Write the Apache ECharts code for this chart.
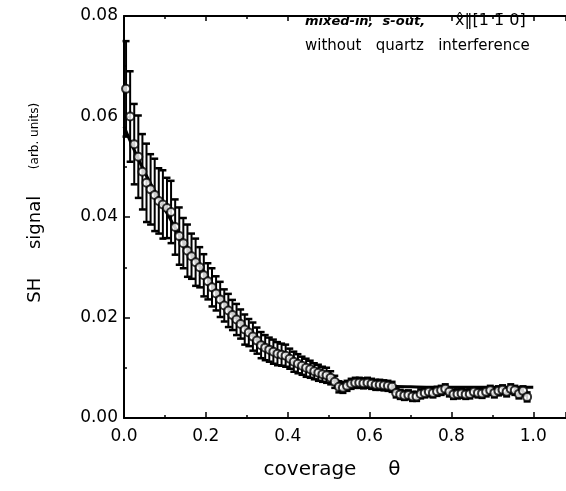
<!DOCTYPE html>
<html>
<head>
<meta charset="utf-8">
<script src="https://cdn.jsdelivr.net/npm/echarts@6/dist/echarts.min.js"></script>
<style>html,body{margin:0;padding:0;background:#fff}#c{width:566px;height:491px}</style>
</head>
<body>
<div id="c"></div>
<script>
// coverage theta of each measured point
const theta = [0.005,0.015,0.025,0.035,0.045,0.055,0.065,0.075,0.085,0.095,
  0.105,0.115,0.125,0.135,0.145,0.155,0.165,0.175,0.185,0.195,
  0.205,0.215,0.225,0.235,0.245,0.255,0.265,0.275,0.285,0.295,
  0.305,0.315,0.325,0.335,0.345,0.355,0.365,0.375,0.385,0.395,
  0.405,0.415,0.425,0.435,0.445,0.455,0.465,0.475,0.485,0.495,
  0.505,0.515,0.525,0.535,0.545,0.555,0.565,0.575,0.585,0.595,
  0.605,0.615,0.625,0.635,0.645,0.655,0.665,0.675,0.685,0.695,
  0.705,0.715,0.725,0.735,0.745,0.755,0.765,0.775,0.785,0.795,
  0.805,0.815,0.825,0.835,0.845,0.855,0.865,0.875,0.885,0.895,
  0.905,0.915,0.925,0.935,0.945,0.955,0.965,0.975,0.985];
// SH signal (arb. units)
const signal = [0.0655,0.0600,0.0545,0.0520,0.0490,0.0468,0.0455,0.0444,0.0432,0.0425,
  0.0418,0.0410,0.0380,0.0362,0.0348,0.0333,0.0322,0.0310,0.0300,0.0284,
  0.0272,0.0260,0.0248,0.0236,0.0224,0.0214,0.0205,0.0196,0.0187,0.0176,
  0.0170,0.0162,0.0154,0.0145,0.0140,0.0136,0.0132,0.0128,0.0126,0.0124,
  0.0118,0.0112,0.0108,0.0104,0.0100,0.0097,0.0093,0.0090,0.0087,0.0085,
  0.0080,0.0072,0.0062,0.0060,0.0064,0.0068,0.0070,0.0070,0.0069,0.0070,
  0.0068,0.0066,0.0066,0.0065,0.0064,0.0062,0.0050,0.0047,0.0045,0.0046,
  0.0043,0.0043,0.0048,0.0050,0.0052,0.0050,0.0053,0.0055,0.0058,0.0052,
  0.0047,0.0048,0.0049,0.0047,0.0048,0.0052,0.0050,0.0049,0.0052,0.0055,
  0.0050,0.0054,0.0056,0.0052,0.0058,0.0055,0.0048,0.0054,0.0042];
// half-length of each error bar
const errHalf = [0.0095,0.0090,0.0080,0.0082,0.0075,0.0078,0.0070,0.0072,0.0065,0.0068,
  0.0060,0.0062,0.0055,0.0057,0.0050,0.0052,0.0045,0.0047,0.0040,0.0042,
  0.0036,0.0038,0.0034,0.0035,0.0032,0.0033,0.0030,0.0031,0.0029,0.0030,
  0.0027,0.0028,0.0026,0.0026,0.0025,0.0024,0.0024,0.0023,0.0022,0.0022,
  0.0020,0.0020,0.0019,0.0018,0.0018,0.0017,0.0016,0.0016,0.0015,0.0015,
  0.0013,0.0012,0.0011,0.0010,0.0010,0.0010,0.0010,0.0010,0.0010,0.0010,
  0.0010,0.0010,0.0010,0.0010,0.0010,0.0010,0.0009,0.0009,0.0009,0.0009,
  0.0009,0.0009,0.0009,0.0009,0.0009,0.0009,0.0009,0.0009,0.0009,0.0009,
  0.0009,0.0009,0.0009,0.0009,0.0009,0.0009,0.0009,0.0009,0.0009,0.0009,
  0.0009,0.0009,0.0009,0.0009,0.0009,0.0009,0.0009,0.0009,0.0009];
// fitted curve
const fitTheta = [0.00,0.05,0.10,0.15,0.20,0.25,0.30,0.35,0.40,0.45,0.50,0.53,0.56,0.60,0.70,0.80,0.90,1.00];
const fitValue = [0.0580,0.0490,0.0415,0.0345,0.0285,0.0225,0.0178,0.0142,0.0116,0.0096,0.0081,0.0072,0.0066,0.0064,0.0062,0.0061,0.0061,0.0061];
// axis ticks
const xTicks = [0.0,0.2,0.4,0.6,0.8,1.0];
const yTicks = [0.00,0.02,0.04,0.06,0.08];

const points = theta.map((t, i) => [t, signal[i]]);
const bars = theta.map((t, i) => [t, signal[i] - errHalf[i], signal[i] + errHalf[i]]);
const fit = fitTheta.map((t, i) => [t, fitValue[i]]);

const font = '"DejaVu Sans", Verdana, sans-serif';
const chart = echarts.init(document.getElementById('c'));
chart.setOption({
  animation: false,
  backgroundColor: '#fff',
  grid: { left: 124, top: 16, right: 0, bottom: 73 },
  xAxis: [{
    type: 'value', min: 0, max: 1.08, interval: 0.2,
    name: 'coverage     θ', nameLocation: 'middle', nameGap: 42,
    nameTextStyle: { fontFamily: font, fontSize: 20, color: '#000', padding: [0, 26, 0, 0] },
    axisLine: { show: true, onZero: false, lineStyle: { color: '#000', width: 2 } },
    axisTick: { show: true, inside: true, length: 6, lineStyle: { color: '#000', width: 1.5 } },
    minorTick: { show: true, splitNumber: 2, length: 3, lineStyle: { color: '#000', width: 1.5 } },
    splitLine: { show: false },
    axisLabel: { fontFamily: font, fontSize: 17, color: '#000', margin: 10, showMaxLabel: false,
      formatter: v => xTicks.some(t => Math.abs(t - v) < 1e-9) ? v.toFixed(1) : '' }
  }, {
    type: 'value', position: 'top', min: 0, max: 1.08, interval: 0.2,
    axisLine: { show: true, onZero: false, lineStyle: { color: '#000', width: 2 } },
    axisTick: { show: true, inside: true, length: 5, lineStyle: { color: '#000', width: 1.5 } },
    minorTick: { show: true, splitNumber: 2, length: 3, lineStyle: { color: '#000', width: 1.5 } },
    splitLine: { show: false }, axisLabel: { show: false }
  }],
  yAxis: {
    type: 'value', min: 0, max: 0.08, interval: 0.02,
    name: '{a|     SH     signal}       {b|(arb. units)}', nameLocation: 'middle', nameGap: 80,
    nameTextStyle: { fontFamily: font, color: '#000',
      rich: { a: { fontFamily: font, fontSize: 18, color: '#000' }, b: { fontFamily: font, fontSize: 12, color: '#000' } } },
    axisLine: { show: true, onZero: false, lineStyle: { color: '#000', width: 2 } },
    axisTick: { show: true, inside: true, length: 6, lineStyle: { color: '#000', width: 1.5 } },
    minorTick: { show: true, splitNumber: 2, length: 3, lineStyle: { color: '#000', width: 1.5 } },
    splitLine: { show: false },
    axisLabel: { fontFamily: font, fontSize: 17, color: '#000', margin: 6,
      formatter: v => yTicks.some(t => Math.abs(t - v) < 1e-9) ? v.toFixed(2) : '' }
  },
  series: [{
    type: 'custom', name: 'error', data: bars, z: 2,
    renderItem: (params, api) => {
      const lo = api.coord([api.value(0), api.value(1)]);
      const hi = api.coord([api.value(0), api.value(2)]);
      const w = 3.5;
      const st = { stroke: '#000', lineWidth: 2 };
      return { type: 'group', children: [
        { type: 'line', shape: { x1: lo[0], y1: lo[1], x2: hi[0], y2: hi[1] }, style: st },
        { type: 'line', shape: { x1: lo[0] - w, y1: lo[1], x2: lo[0] + w, y2: lo[1] }, style: { stroke: '#000', lineWidth: 2.5 } },
        { type: 'line', shape: { x1: hi[0] - w, y1: hi[1], x2: hi[0] + w, y2: hi[1] }, style: { stroke: '#000', lineWidth: 2.5 } }
      ] };
    }
  }, {
    type: 'line', name: 'fit', data: fit, smooth: 0.4, symbol: 'none', z: 3,
    lineStyle: { color: '#000', width: 3 }
  }, {
    type: 'scatter', name: 'data', data: points, symbol: 'circle', symbolSize: 8, z: 4,
    itemStyle: { color: '#fff', borderColor: '#000', borderWidth: 2 }
  }],
  graphic: [
    { type: 'text', left: 305, top: 15, style: { text: 'mixed-in,  s-out,', font: 'italic bold 13px ' + font, fill: '#000' } },
    { type: 'text', left: 455, top: 13, style: { text: 'x̂‖[1 1̄ 0]', font: '16px ' + font, fill: '#000' } },
    { type: 'text', left: 305, top: 39, style: { text: 'without   quartz   interference', font: '15px ' + font, fill: '#000' } }
  ]
});
</script>
</body>
</html>
